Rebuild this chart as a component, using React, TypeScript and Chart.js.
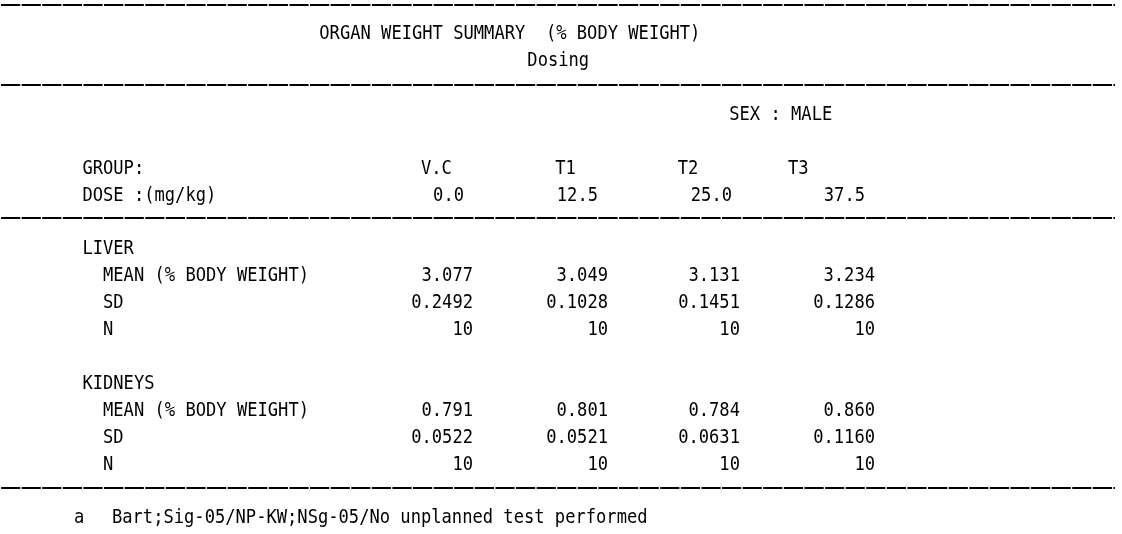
import { useEffect, useRef } from "react";
import { Chart, registerables } from "chart.js";

Chart.register(...registerables);

// ---- data ----
const titleText = "ORGAN WEIGHT SUMMARY  (% BODY WEIGHT)";
const subtitleText = "Dosing";
const sexText = "SEX : MALE";
const groupLabel = "GROUP:";
const doseLabel = "DOSE :(mg/kg)";
const groups = ["V.C", "T1", "T2", "T3"];
const doses = ["0.0", "12.5", "25.0", "37.5"];
const organs = ["LIVER", "KIDNEYS"];
const statLabels = ["MEAN (% BODY WEIGHT)", "SD", "N"];
const liverMean = [3.077, 3.049, 3.131, 3.234];
const liverSD = [0.2492, 0.1028, 0.1451, 0.1286];
const liverN = [10, 10, 10, 10];
const kidneysMean = [0.791, 0.801, 0.784, 0.86];
const kidneysSD = [0.0522, 0.0521, 0.0631, 0.116];
const kidneysN = [10, 10, 10, 10];
const footMark = "a";
const footText = "Bart;Sig-05/NP-KW;NSg-05/No unplanned test performed";

// ---- layout (character grid: columns x rows) ----
const W = 1122;
const H = 534;
const CW = 10.3; // px per column
const RP = 26.9; // px per row
const Y0 = 5; // px of row 0
const FONT_SIZE = 20;
const CAP = 0.729 * FONT_SIZE;

const ruleRows = [0, 2.98, 7.9, 17.95];
const ruleStart = 0.1;
const ruleEnd = 108.25;
const titleCol = 31.0;
const subtitleCol = 51.2;
const sexCol = 70.8;
const labelCol = 8.0;
const statCol = 10.0;
const groupCols = [40.87, 53.9, 65.8, 76.5];
const doseRightCols = [45.05, 58.06, 71.07, 83.98];
const valueRightCols = [45.92, 59.03, 71.84, 84.95];
const footMarkCol = 7.18;
const footTextCol = 10.87;

const tablePlugin = {
  id: "textTable",
  beforeDraw(chart: any) {
    const ctx = chart.ctx;
    ctx.save();
    ctx.fillStyle = "#ffffff";
    ctx.fillRect(0, 0, chart.width, chart.height);
    ctx.restore();
  },
  afterDraw(chart: any) {
    const ctx: CanvasRenderingContext2D = chart.ctx;
    const xs = chart.scales.x;
    const ys = chart.scales.y;
    const px = (c: number) => xs.getPixelForValue(c);
    const py = (r: number) => ys.getPixelForValue(r);

    ctx.save();
    ctx.font = `${FONT_SIZE}px "DejaVu Sans Mono", "Liberation Mono", monospace`;
    const adv = ctx.measureText("0").width;
    const colPx = px(1) - px(0);
    const sx = colPx / adv;
    ctx.fillStyle = "#000000";
    ctx.textBaseline = "alphabetic";

    const text = (s: string, col: number, row: number, align: "left" | "right" = "left") => {
      ctx.save();
      ctx.translate(px(col), py(row) + CAP / 2);
      ctx.scale(sx, 1);
      ctx.textAlign = align;
      ctx.fillText(s, 0, 0);
      ctx.restore();
    };

    // rules
    ctx.save();
    ctx.strokeStyle = "#000000";
    ctx.lineWidth = 2;
    ctx.setLineDash([colPx * 2 - 1.4, 1.4]);
    for (const r of ruleRows) {
      const y = Math.round(py(r)) ;
      ctx.beginPath();
      ctx.moveTo(px(ruleStart), y);
      ctx.lineTo(px(ruleEnd), y);
      ctx.stroke();
    }
    ctx.restore();

    text(titleText, titleCol, 1);
    text(subtitleText, subtitleCol, 2);
    text(sexText, sexCol, 4);
    text(groupLabel, labelCol, 6);
    text(doseLabel, labelCol, 7);
    groups.forEach((g, i) => text(g, groupCols[i], 6));
    doses.forEach((d, i) => text(d, doseRightCols[i], 7, "right"));

    const blocks = [
      { name: organs[0], mean: liverMean, sd: liverSD, n: liverN, row: 9 },
      { name: organs[1], mean: kidneysMean, sd: kidneysSD, n: kidneysN, row: 14 },
    ];
    for (const b of blocks) {
      text(b.name, labelCol, b.row);
      text(statLabels[0], statCol, b.row + 1);
      text(statLabels[1], statCol, b.row + 2);
      text(statLabels[2], statCol, b.row + 3);
      b.mean.forEach((v, i) => text(v.toFixed(3), valueRightCols[i], b.row + 1, "right"));
      b.sd.forEach((v, i) => text(v.toFixed(4), valueRightCols[i], b.row + 2, "right"));
      b.n.forEach((v, i) => text(String(v), valueRightCols[i], b.row + 3, "right"));
    }

    text(footMark, footMarkCol, 19);
    text(footText, footTextCol, 19);
    ctx.restore();
  },
};

export default function App() {
  const ref = useRef<HTMLCanvasElement | null>(null);
  useEffect(() => {
    if (!ref.current) return;
    const chart = new Chart(ref.current, {
      type: "scatter",
      data: { datasets: [] },
      options: {
        responsive: false,
        animation: false,
        events: [],
        layout: { padding: 0 },
        scales: {
          x: { type: "linear", display: false, min: 0, max: W / CW },
          y: { type: "linear", display: false, reverse: true, min: -Y0 / RP, max: (H - Y0) / RP },
        },
        plugins: { legend: { display: false }, tooltip: { enabled: false }, title: { display: false } },
      },
      plugins: [tablePlugin],
    } as any);
    return () => chart.destroy();
  }, []);
  return (
    <div style={{ position: "fixed", left: 0, top: 0, width: W, height: H, background: "#fff" }}>
      <canvas ref={ref} width={W} height={H} style={{ display: "block", width: W, height: H }} />
    </div>
  );
}
